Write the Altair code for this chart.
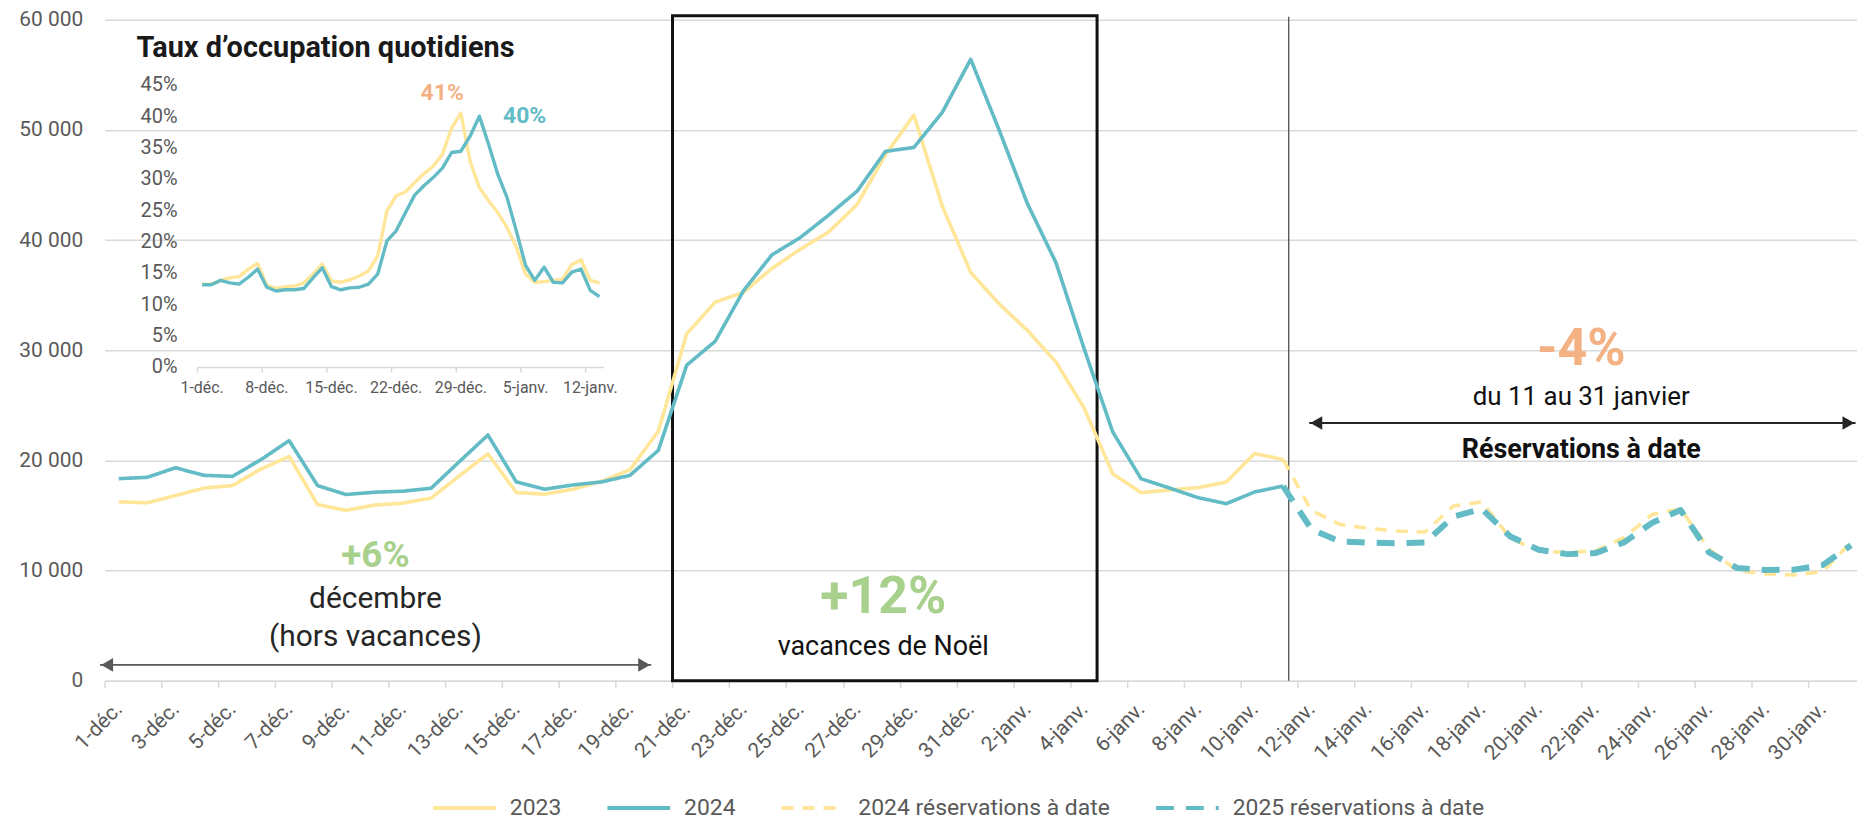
import altair as alt
import pandas as pd

# ---------------- data ----------------
days = [f"{d}-déc." for d in range(1, 32)] + [f"{d}-janv." for d in range(1, 32)]

series = ["2023", "2024", "2024 réservations à date", "2025 réservations à date"]

# 1-déc. .. 11-janv.
val_2023 = [16250, 16160, 16820, 17500, 17720, 19220, 20360, 16000, 15470, 15950,
            16130, 16580, 18620, 20600, 17090, 16940, 17390, 18110, 19160, 22650,
            31500, 34360, 35260, 37430, 39170, 40740, 43230, 47740, 51350, 43080,
            37070, 34210, 31800, 28950, 24740, 18800, 17080, 17320, 17530, 18040,
            20630, 20090]
val_2024 = [18350, 18470, 19340, 18650, 18560, 20060, 21800, 17720, 16910, 17120,
            17210, 17480, 19910, 22310, 18050, 17390, 17780, 18050, 18650, 20920,
            28650, 30810, 35410, 38660, 40230, 42270, 44440, 48050, 48410, 51590,
            56410, 50000, 43290, 37970, 30100, 22600, 18340, 17500, 16630, 16080,
            17140, 17680]
# 11-janv. .. 31-janv.
res_2024 = [20090, 15450, 14200, 13840, 13600, 13510, 15860, 16250, 12950, 11800,
            11650, 11800, 13000, 15100, 15600, 11950, 10000, 9700, 9610, 9910, 12550]
res_2025 = [17680, 13750, 12650, 12550, 12490, 12550, 14900, 15600, 13100, 11900,
            11500, 11590, 12550, 14350, 15500, 11650, 10240, 10060, 10090, 10500, 12300]

# inset: daily occupancy rate (%) 1-déc. .. 13-janv.
occ_2023 = [13.3, 13.3, 13.9, 14.3, 14.5, 15.7, 16.6, 13.1, 12.6, 12.9, 13.0, 13.5,
            14.9, 16.5, 13.8, 13.6, 14.0, 14.6, 15.4, 17.8, 25.0, 27.4, 28.0, 29.5,
            30.9, 32.1, 34.0, 38.2, 40.6, 32.9, 28.7, 26.6, 24.7, 22.3, 19.2, 14.9,
            13.6, 13.7, 13.9, 14.1, 16.4, 17.2, 13.9, 13.5]
occ_2024 = [13.2, 13.2, 13.9, 13.5, 13.3, 14.4, 15.7, 12.8, 12.2, 12.4, 12.4, 12.6,
            14.3, 15.9, 12.9, 12.4, 12.7, 12.8, 13.3, 14.9, 20.2, 21.8, 24.7, 27.5,
            29.0, 30.3, 31.8, 34.3, 34.5, 36.9, 40.1, 35.6, 30.8, 27.1, 21.8, 16.3,
            13.9, 16.0, 13.6, 13.5, 15.2, 15.7, 12.3, 11.3]
inset_pct_ticks = [0, 5, 10, 15, 20, 25, 30, 35, 40, 45]
inset_x_labels = ["1-déc.", "8-déc.", "15-déc.", "22-déc.", "29-déc.", "5-janv.", "12-janv."]

# ---------------- style ----------------
YELLOW = "#ffe699"
TEAL = "#62bbc5"
GRAY = "#595959"
GRID = "#d9d9d9"
DARK = "#262626"
GREEN = "#a9d18e"
ORANGE = "#f4b183"
FONT = "Roboto"

W, H = 1760, 664
DAY = 28.52
XMAX = -0.5 + W / DAY

# ---------------- main table ----------------
rows = []
for i, v in enumerate(val_2023):
    rows.append({"idx": i, "val": v, "serie": series[0]})
for i, v in enumerate(val_2024):
    rows.append({"idx": i, "val": v, "serie": series[1]})
for j, v in enumerate(res_2024):
    rows.append({"idx": 41 + j, "val": v, "serie": series[2]})
for j, v in enumerate(res_2025):
    rows.append({"idx": 41 + j, "val": v, "serie": series[3]})
df_main = pd.DataFrame(rows)

label_array = "[" + ",".join("'" + d + "'" for d in days) + "]"

x_axis = alt.Axis(
    values=[-0.5 + 2 * k for k in range(31)],
    labelExpr=label_array + "[round(datum.value + 0.5)]",
    labelOffset=DAY / 2, labelAngle=-45, labelAlign="right", labelBaseline="middle",
    labelPadding=18, tickSize=7, tickColor=GRID, tickWidth=1.5,
    domainColor=GRID, domainWidth=1.5, grid=False,
    labelFontSize=21, labelColor=GRAY, labelFont=FONT,
    labelOverlap=False, labelBound=False, labelFlush=False, title=None,
)
y_axis = alt.Axis(
    values=[0, 10000, 20000, 30000, 40000, 50000, 60000],
    labelExpr="datum.value == 0 ? '0' : format(datum.value / 1000, 'd') + ' 000'",
    grid=True, gridColor=GRID, gridWidth=1.5, domain=False, ticks=False,
    labelPadding=22, labelFontSize=21, labelColor=GRAY, labelFont=FONT, title=None,
)
x_scale = alt.Scale(domain=[-0.5, XMAX], nice=False, zero=False)
y_scale = alt.Scale(domain=[0, 60000], nice=False, zero=False)
x_enc = alt.X("idx:Q", scale=x_scale, axis=x_axis)
y_enc = alt.Y("val:Q", scale=y_scale, axis=y_axis)

legend = alt.Legend(
    orient="none", legendX=328, legendY=758, direction="horizontal", title=None,
    symbolType="stroke", symbolSize=3969, symbolStrokeWidth=4, labelFontSize=23, labelColor=GRAY,
    labelFont=FONT, labelOffset=12, columnPadding=38, labelLimit=600,
)
color_enc = alt.Color("serie:N", scale=alt.Scale(domain=series, range=[YELLOW, TEAL, YELLOW, TEAL]), legend=legend)
dash_enc = alt.StrokeDash("serie:N", scale=alt.Scale(domain=series, range=[[1, 0], [1, 0], [12, 9], [18, 12]]), legend=legend)

line_widths = {series[0]: 3.6, series[1]: 3.6, series[2]: 3.6, series[3]: 6}


def line_layer(name):
    return alt.Chart(df_main).transform_filter(alt.datum.serie == name).mark_line(
        strokeJoin="round", strokeWidth=line_widths[name]
    ).encode(x=x_enc, y=y_enc, color=color_enc, strokeDash=dash_enc)


def text_layer(texts, xs, ys, size, color, weight="normal", align="center"):
    d = pd.DataFrame({"idx": xs, "val": ys, "label": texts})
    return alt.Chart(d).mark_text(
        font=FONT, fontSize=size, color=color, fontWeight=weight, align=align, baseline="middle"
    ).encode(x=x_enc, y=y_enc, text="label:N")


# vacances box & separator
box_df = pd.DataFrame({"idx": [19.5], "idx2": [34.45], "val": [60360], "val2": [0]})
box = alt.Chart(box_df).mark_rect(fillOpacity=0, stroke="#111111", strokeWidth=3).encode(
    x=x_enc, x2=alt.X2("idx2:Q"), y=y_enc, y2=alt.Y2("val2:Q"))
sep_df = pd.DataFrame({"idx": [41.2], "val": [0], "val2": [60270]})
sep = alt.Chart(sep_df).mark_rule(color="#404040", strokeWidth=1.2).encode(
    x=x_enc, y=y_enc, y2=alt.Y2("val2:Q"))

# arrows
arr_df = pd.DataFrame({"idx": [-0.66, 41.92], "idx2": [18.75, 61.16], "val": [1446, 23400]})
arr_lines_a = alt.Chart(arr_df.iloc[[0]]).mark_rule(strokeWidth=1.6, color=GRAY).encode(
    x=x_enc, x2=alt.X2("idx2:Q"), y=y_enc)
arr_lines_b = alt.Chart(arr_df.iloc[[1]]).mark_rule(strokeWidth=1.8, color=DARK).encode(
    x=x_enc, x2=alt.X2("idx2:Q"), y=y_enc)
head_l = pd.DataFrame({"idx": [-0.41, 42.17], "val": [1446, 23400]})
head_r = pd.DataFrame({"idx": [18.5, 60.91], "val": [1446, 23400]})
heads = []
for dfh, shape in [(head_l, "triangle-left"), (head_r, "triangle-right")]:
    heads.append(alt.Chart(dfh.iloc[[0]]).mark_point(shape=shape, filled=True, size=190, opacity=1,
                                                     color=GRAY, strokeWidth=0).encode(x=x_enc, y=y_enc))
    heads.append(alt.Chart(dfh.iloc[[1]]).mark_point(shape=shape, filled=True, size=190, opacity=1,
                                                     color=DARK, strokeWidth=0).encode(x=x_enc, y=y_enc))

texts = [
    text_layer(["+6%"], [9.04], [11295], 37, GREEN, "bold"),
    text_layer(["décembre"], [9.04], [7410], 30, DARK),
    text_layer(["(hors vacances)"], [9.04], [3976], 30, DARK),
    text_layer(["+12%"], [26.92], [7590], 52, GREEN, "bold"),
    text_layer(["vacances de Noël"], [26.92], [3072], 27, "#111111"),
    text_layer(["-4%"], [51.5], [30090], 52, ORANGE, "bold"),
    text_layer(["du 11 au 31 janvier"], [51.5], [25750], 26, "#111111"),
    text_layer(["Réservations à date"], [51.5], [20960], 27, "#111111", "bold"),
]

main = alt.layer(
    box, sep,
    line_layer(series[0]), line_layer(series[1]), line_layer(series[2]), line_layer(series[3]),
    arr_lines_a, arr_lines_b, *heads, *texts,
)

# ---------------- inset ----------------
ix_scale = alt.Scale(domain=[-0.5, 43.5], range=[93.3, 501.7], nice=False, zero=False)
iy_scale = alt.Scale(domain=[0, 45], range=[349.3, 66], nice=False, zero=False)
ix = alt.X("ix:Q", scale=ix_scale, axis=None)
iy = alt.Y("iy:Q", scale=iy_scale, axis=None)

inset_df = pd.DataFrame(
    [{"ix": i, "iy": v, "s": "2023"} for i, v in enumerate(occ_2023)]
    + [{"ix": i, "iy": v, "s": "2024"} for i, v in enumerate(occ_2024)]
)
in_line_23 = alt.Chart(inset_df).transform_filter(alt.datum.s == "2023").mark_line(
    color=YELLOW, strokeWidth=3.4, strokeJoin="round").encode(x=ix, y=iy)
in_line_24 = alt.Chart(inset_df).transform_filter(alt.datum.s == "2024").mark_line(
    color=TEAL, strokeWidth=3.4, strokeJoin="round").encode(x=ix, y=iy)

in_axis_df = pd.DataFrame({"ix": [-0.5], "ix2": [43.5], "iy": [0]})
in_axis = alt.Chart(in_axis_df).mark_rule(color=GRID, strokeWidth=1.5).encode(
    x=ix, x2=alt.X2("ix2:Q"), y=iy)
in_ticks_df = pd.DataFrame({"ix": [-0.5 + 7 * k for k in range(7)], "iy": [0] * 7, "iy2": [-0.8] * 7})
in_ticks = alt.Chart(in_ticks_df).mark_rule(color=GRID, strokeWidth=1.5).encode(
    x=ix, y=iy, y2=alt.Y2("iy2:Q"))
in_xlab_df = pd.DataFrame({"ix": [7 * k for k in range(7)], "iy": [-3.34] * 7, "t": inset_x_labels})
in_xlab = alt.Chart(in_xlab_df).mark_text(font=FONT, fontSize=16, color=GRAY, baseline="middle").encode(
    x=ix, y=iy, text="t:N")
in_ylab_df = pd.DataFrame({"ix": [-2.66] * len(inset_pct_ticks), "iy": inset_pct_ticks,
                           "t": [f"{p}%" for p in inset_pct_ticks]})
in_ylab = alt.Chart(in_ylab_df).mark_text(font=FONT, fontSize=20, color=GRAY, align="right",
                                          baseline="middle").encode(x=ix, y=iy, text="t:N")
in_title = alt.Chart(pd.DataFrame({"ix": [-7.1], "iy": [50.92], "t": ["Taux d’occupation quotidiens"]})).mark_text(
    font=FONT, fontSize=29, fontWeight="bold", color="#1a1a1a", align="left", baseline="middle").encode(
    x=ix, y=iy, text="t:N")
in_41 = alt.Chart(pd.DataFrame({"ix": [25.98], "iy": [43.77], "t": ["41%"]})).mark_text(
    font=FONT, fontSize=23, fontWeight="bold", color=ORANGE, baseline="middle").encode(x=ix, y=iy, text="t:N")
in_40 = alt.Chart(pd.DataFrame({"ix": [34.9], "iy": [40.07], "t": ["40%"]})).mark_text(
    font=FONT, fontSize=23, fontWeight="bold", color=TEAL, baseline="middle").encode(x=ix, y=iy, text="t:N")

inset = alt.layer(in_axis, in_ticks, in_line_23, in_line_24, in_xlab, in_ylab, in_title, in_41, in_40)

chart = alt.layer(main, inset).resolve_scale(x="independent", y="independent").properties(
    width=W, height=H,
    padding={"left": 97, "top": 10, "right": 0, "bottom": 138},
    autosize=alt.AutoSizeParams(type="none"),
).configure_view(stroke=None)

chart.save("out.html", embed_options={"renderer": "svg", "actions": False})
